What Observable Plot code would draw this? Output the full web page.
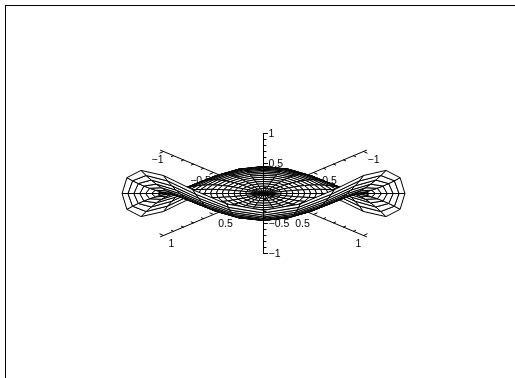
<!DOCTYPE html>
<html><head><meta charset="utf-8">
<script src="https://cdn.jsdelivr.net/npm/d3@7"></script>
<script src="https://cdn.jsdelivr.net/npm/@observablehq/plot@0.6"></script>
<style>html,body{margin:0;padding:0;background:#fff}svg{display:block}#chart{will-change:transform}</style>
</head><body>
<div id="chart"></div>
<script>
// Rim height of the surface (r = 1) read at each spoke; spoke angle from the screen-right direction (degrees)
const spokeAngles = [0,15,30,45,60,75,90];
const rimHeight   = [0,0.52,0.88,1,0.92,0.78,0.71];
// Ring radii of the mesh
const ringRadii = d3.range(0,25).map(i=>i/24);
// Growth of height read along a spoke
const ringHeightFactor = ringRadii.map(r=>r*r*r);

const tickValues = d3.range(-10,11).map(i=>i/10);
const majorValues = [-1,-0.5,0.5,1];
const axisEnds = [-1.03,1.03];
const zEnds = [-1,1];
const planeLabelValues = [-1,-0.5,0.5,1];
const planeLabelText = ["−1","−0.5","0.5","1"];
const zLabelValues = [1,0.5,-0.5,-1];
const zLabelText = ["1","0.5","−0.5","−1"];

// view
const H=100, D=42, Z=60, DEPTH_U=125.6, DEPTH_Z=28.5;
const sx=(a,b)=>H*(a-b);
const sy=(a,b,z)=>D*(a+b)-Z*z;
function rim(deg){
  let d=deg, sign=1;
  if(d>180){d-=180;sign=-1;}
  if(d>90)d=180-d;
  return sign*rimHeight[spokeAngles.indexOf(d)];
}
const degs=d3.range(0,360,15);
function P(i,j){
  const r=ringRadii[i],phi=degs[j%24];
  const u=r*Math.sin(phi*Math.PI/180),v=r*Math.cos(phi*Math.PI/180);
  const z=ringHeightFactor[i]*rim(phi);
  const a=(u+v)/Math.SQRT2,b=(u-v)/Math.SQRT2;
  return {x:sx(a,b),y:sy(a,b,z),depth:DEPTH_U*u+DEPTH_Z*z};
}
const quads=[];
for(let i=0;i<ringRadii.length-1;i++)for(let j=0;j<24;j++){
  const c=[P(i,j),P(i+1,j),P(i+1,j+1),P(i,j+1)];
  quads.push({c,depth:d3.mean(c,d=>d.depth)});
}
quads.sort((p,q)=>p.depth-q.depth);
const polys=[];
quads.forEach((q,k)=>{[...q.c,q.c[0]].forEach(p=>polys.push({id:k,x:p.x,y:p.y}));});

const pt=(a,b)=>({x:sx(a,b),y:sy(a,b,0)});
const ax1=axisEnds.map(v=>pt(v,0));
const ax2=axisEnds.map(v=>pt(0,v));
const zAxis=zEnds.map(z=>({x:0,y:sy(0,0,z)}));
const planeTicks=[];
tickValues.forEach(v=>{
  if(v==0)return;
  const L=majorValues.includes(v)?1:0.6;
  const s=v>0?1:-1;
  const tx=3.6*L, ty=1.6*L;
  const p=pt(v,0), q=pt(0,v);
  planeTicks.push({id:"a"+v,x:p.x,y:p.y},{id:"a"+v,x:p.x+s*tx,y:p.y-s*ty});
  planeTicks.push({id:"b"+v,x:q.x,y:q.y},{id:"b"+v,x:q.x-s*tx,y:q.y-s*ty});
});
const zTicks=[];
tickValues.forEach(v=>{
  const L=majorValues.includes(v)?4:2.5;
  zTicks.push({id:"z"+v,x:0,y:sy(0,0,v)},{id:"z"+v,x:L,y:sy(0,0,v)});
});
// label offsets from their tick, following the figure
const labelOffsetA={"-1":[-6,8],"-0.5":[-13,8],"0.5":[-11,9],"1":[-5,8]};
const labelOffsetB={"-1":[10,8],"-0.5":[13,8],"0.5":[12,9],"1":[8,8]};
const labels=[];
planeLabelValues.forEach((v,i)=>{
  const p=pt(v,0), q=pt(0,v), oa=labelOffsetA[v], ob=labelOffsetB[v];
  labels.push({x:p.x+oa[0],y:p.y+oa[1],text:planeLabelText[i]});
  labels.push({x:q.x+ob[0],y:q.y+ob[1],text:planeLabelText[i]});
});
const zl=zLabelValues.map((v,i)=>({x:5,y:sy(0,0,v),text:zLabelText[i]}));

const W=515,HH=378,cx=263,cy=193;
const frameTop=[{x:5-cx,y:5-cy},{x:W-cx,y:5-cy}];
const frameLeft=[{x:5-cx,y:5-cy},{x:5-cx,y:HH-cy}];
const font="'Liberation Sans', Arial, sans-serif";
const line=(d,o={})=>Plot.line(d,{x:"x",y:"y",stroke:"black",strokeWidth:1,...o});
const plot=Plot.plot({
  width:W,height:HH,margin:0,
  x:{domain:[-cx,W-cx],range:[0,W],axis:null},
  y:{domain:[-cy,HH-cy],range:[0,HH],axis:null},
  style:{background:"transparent"},
  marks:[
    line(frameTop),line(frameLeft),
    line(ax1),line(ax2),
    line(planeTicks,{z:"id"}),
    Plot.text(labels,{x:"x",y:"y",text:"text",fontSize:10.5,fontFamily:font,fill:"black"}),
    Plot.line(polys,{x:"x",y:"y",z:"id",fill:"white",stroke:"black",strokeWidth:1,curve:"linear"}),
    line(zAxis),line(zTicks,{z:"id"}),
    Plot.text(zl,{x:"x",y:"y",text:"text",textAnchor:"start",fontSize:10.5,fontFamily:font,fill:"black"})
  ]
});
document.getElementById("chart").appendChild(plot);
</script>
</body></html>
